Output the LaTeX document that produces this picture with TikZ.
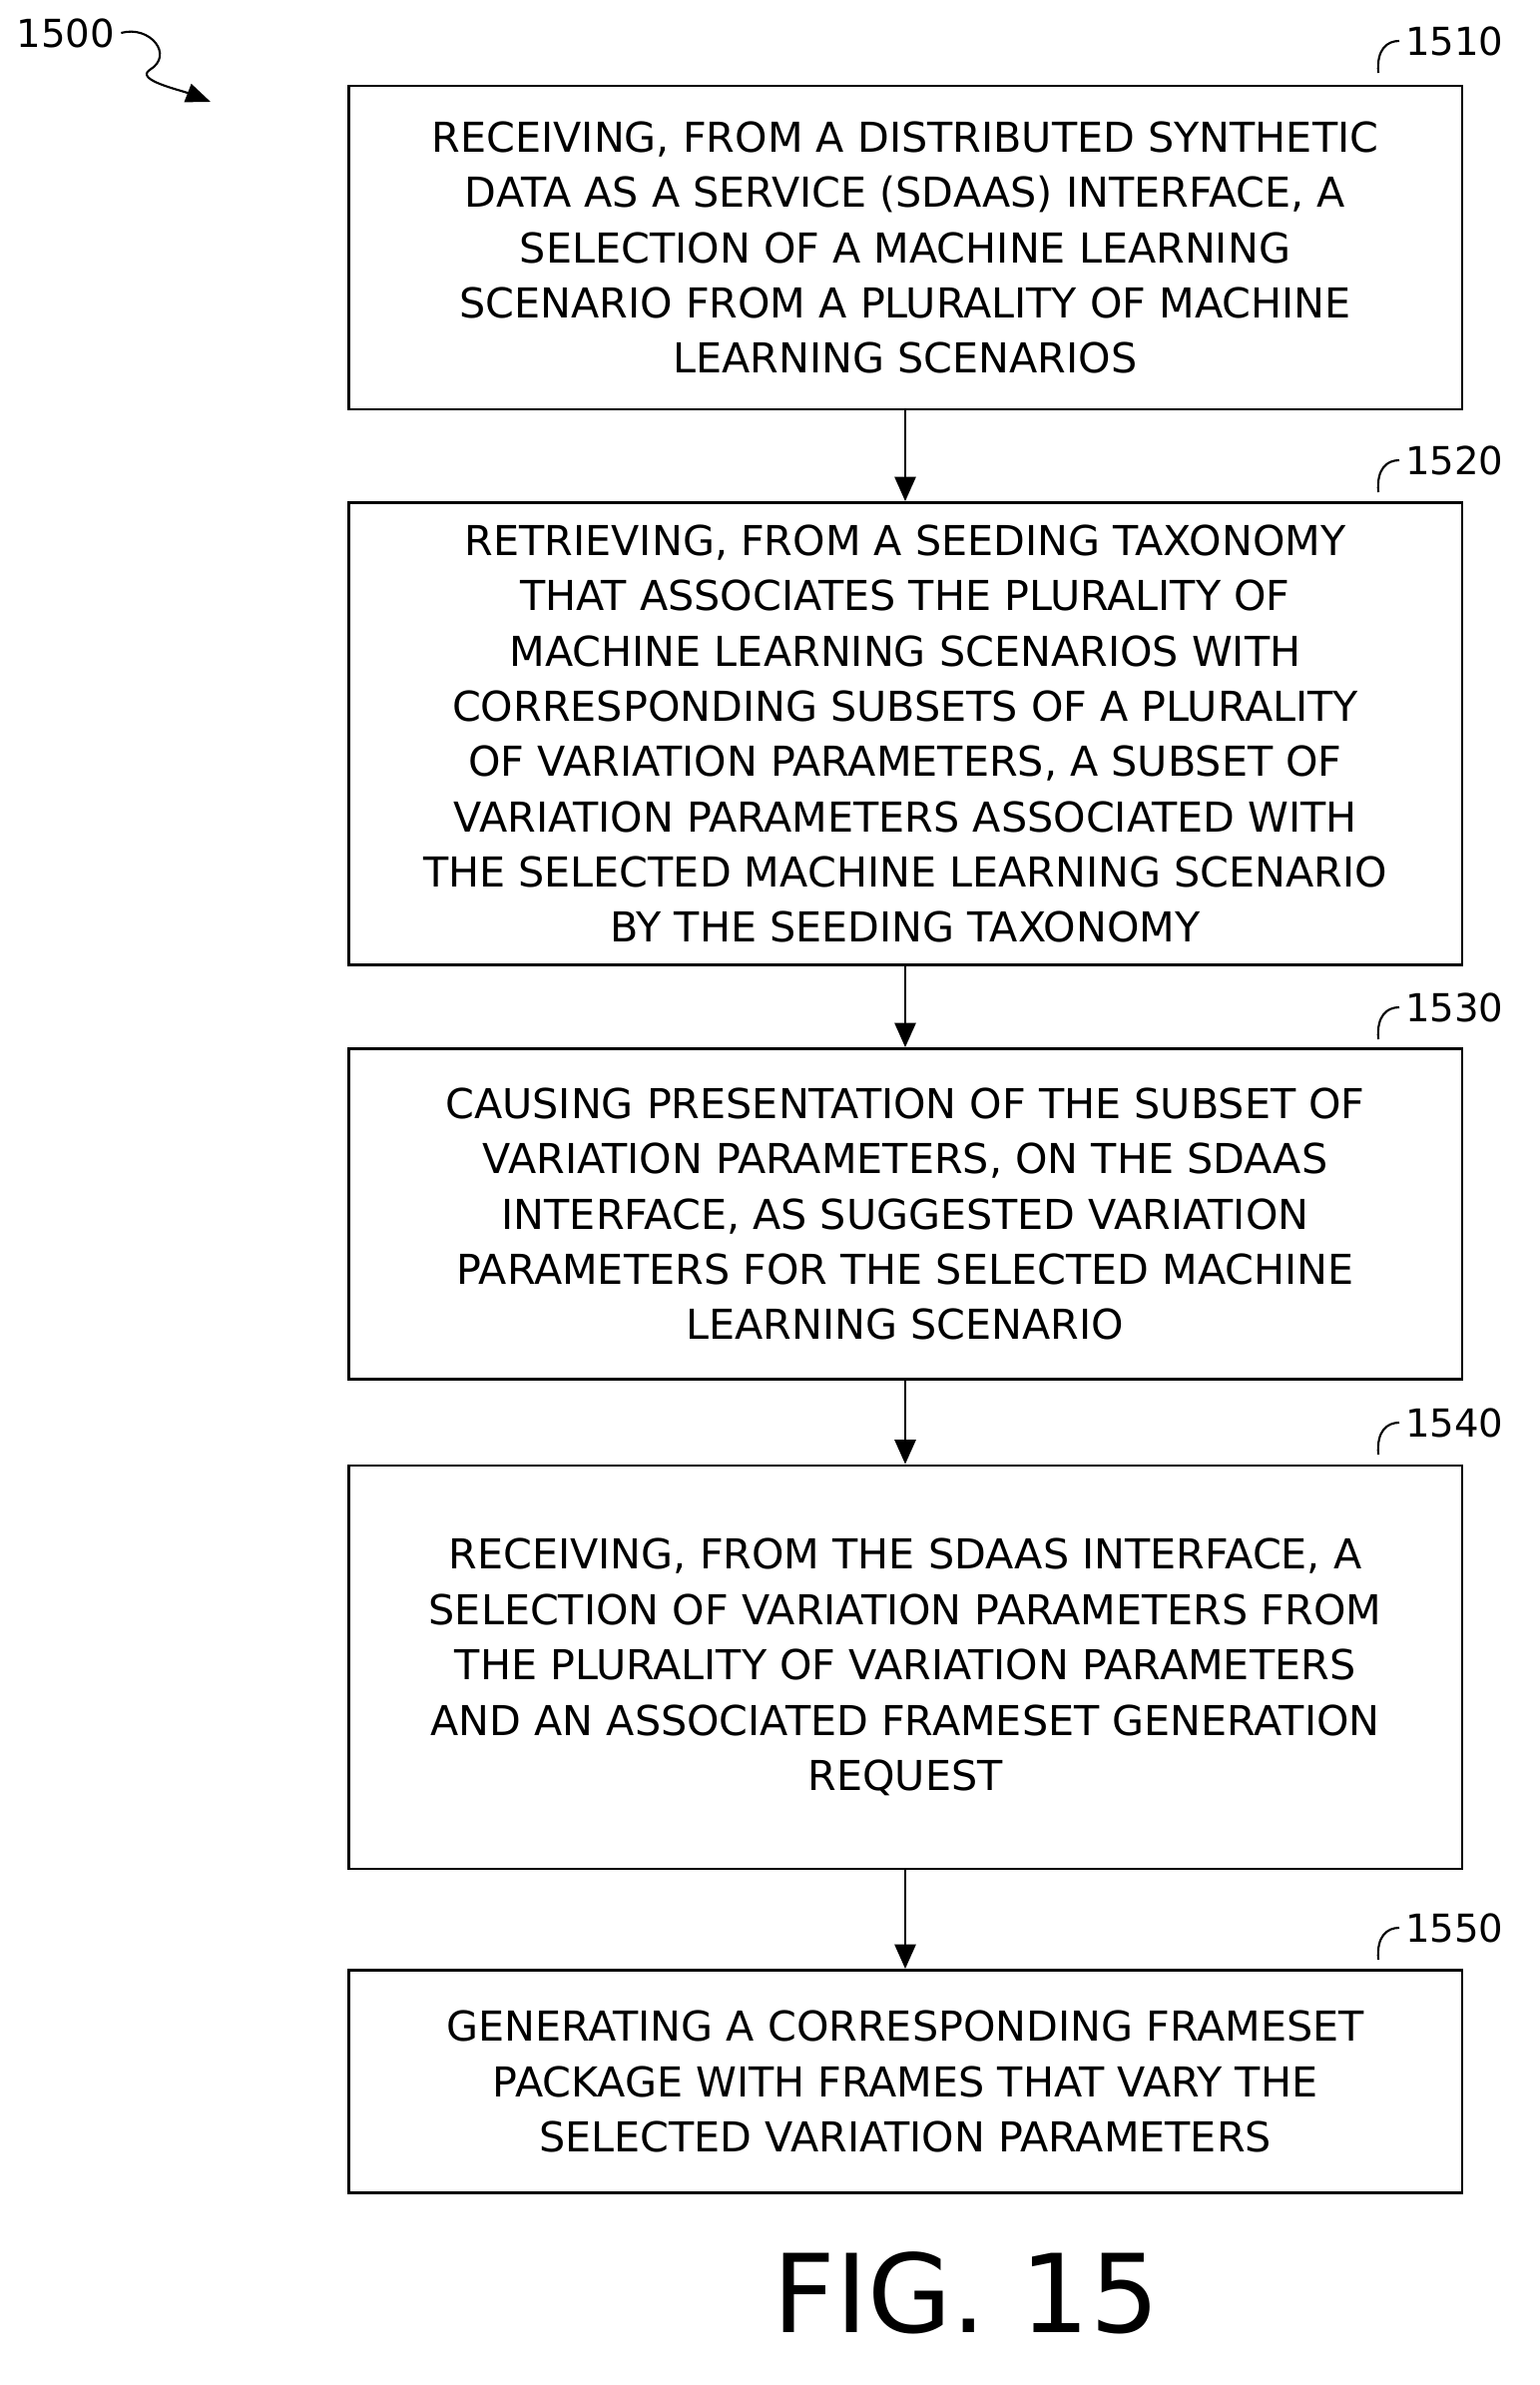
\documentclass[tikz,border=0pt]{standalone}
\usepackage{fontspec}
\setmainfont{DejaVu Sans}
\usetikzlibrary{arrows.meta}
\begin{document}
\begin{tikzpicture}[x=0.02cm,y=-0.02cm,
  stage/.style={draw,line width=1.6pt,minimum width=22.32cm,align=center,
    font=\fontsize{23.5}{31.5}\selectfont},
  flow/.style={-{Triangle[length=14pt,width=12pt]},line width=1.6pt},
  tag/.style={font=\fontsize{22}{28}\selectfont,anchor=west}]
  \useasboundingbox (0,0) rectangle (1542,2389);

  % Steps
  \node[stage,minimum height=6.48cm] (s1510) at (907,248) {RECEIVING, FROM A DISTRIBUTED SYNTHETIC\\DATA AS A SERVICE (SDAAS) INTERFACE, A\\SELECTION OF A MACHINE LEARNING\\SCENARIO FROM A PLURALITY OF MACHINE\\LEARNING SCENARIOS};
  \node[stage,minimum height=9.26cm] (s1520) at (907,735) {RETRIEVING, FROM A SEEDING TAXONOMY\\THAT ASSOCIATES THE PLURALITY OF\\MACHINE LEARNING SCENARIOS WITH\\CORRESPONDING SUBSETS OF A PLURALITY\\OF VARIATION PARAMETERS, A SUBSET OF\\VARIATION PARAMETERS ASSOCIATED WITH\\THE SELECTED MACHINE LEARNING SCENARIO\\BY THE SEEDING TAXONOMY};
  \node[stage,minimum height=6.62cm] (s1530) at (907,1216) {CAUSING PRESENTATION OF THE SUBSET OF\\VARIATION PARAMETERS, ON THE SDAAS\\INTERFACE, AS SUGGESTED VARIATION\\PARAMETERS FOR THE SELECTED MACHINE\\LEARNING SCENARIO};
  \node[stage,minimum height=8.08cm] (s1540) at (907,1670) {RECEIVING, FROM THE SDAAS INTERFACE, A\\SELECTION OF VARIATION PARAMETERS FROM\\THE PLURALITY OF VARIATION PARAMETERS\\AND AN ASSOCIATED FRAMESET GENERATION\\REQUEST};
  \node[stage,minimum height=4.46cm] (s1550) at (907,2085) {GENERATING A CORRESPONDING FRAMESET\\PACKAGE WITH FRAMES THAT VARY THE\\SELECTED VARIATION PARAMETERS};

  % Arrows
  \draw[flow] (s1510) -- (s1520);
  \draw[flow] (s1520) -- (s1530);
  \draw[flow] (s1530) -- (s1540);
  \draw[flow] (s1540) -- (s1550);

  % Reference numerals
  \foreach \n/\y in {1510/41,1520/461,1530/1009,1540/1425,1550/1931}{
    \node[tag] (t\n) at (1402,\y) {\n};
    \draw[line width=1.2pt] (1381,\y+32) .. controls (1379,\y+8) and (1390,\y) .. (t\n.west);
  }
  \node[font=\fontsize{22}{28}\selectfont] (t1500) at (66,33) {1500};
  \draw[line width=1.2pt,-{Triangle[length=14pt,width=11pt]}] (t1500.east) .. controls (150,25) and (175,55) .. (150,70) .. controls (135,80) and (180,90) .. (211,102);

  % Figure label
  \node[font=\fontsize{62}{62}\selectfont] (fig) at (968,2297) {FIG. 15};
\end{tikzpicture}
\end{document}
